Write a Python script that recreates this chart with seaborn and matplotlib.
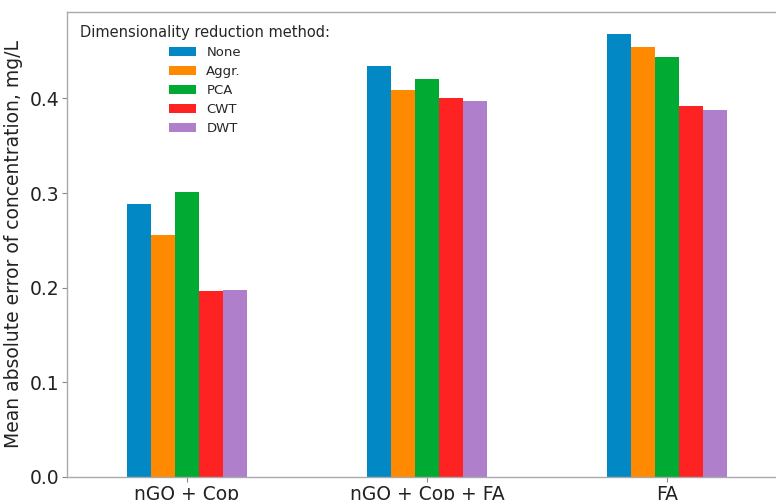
import matplotlib
matplotlib.use("Agg")
import matplotlib.pyplot as plt
import seaborn as sns
import pandas as pd

# data
mixtures = ["nGO + Cop", "nGO + Cop + FA", "FA"]
methods = ["None", "Aggr.", "PCA", "CWT", "DWT"]
mae_none = [0.288, 0.434, 0.468]
mae_aggr = [0.256, 0.409, 0.454]
mae_pca = [0.301, 0.421, 0.444]
mae_cwt = [0.197, 0.400, 0.392]
mae_dwt = [0.198, 0.397, 0.388]

colors = ["#0388c6", "#ff8a00", "#00aa33", "#ff2222", "#b07fcc"]

rows = []
for method, vals in zip(methods, [mae_none, mae_aggr, mae_pca, mae_cwt, mae_dwt]):
    for mix, v in zip(mixtures, vals):
        rows.append({"Mixture": mix, "Method": method, "MAE": v})
df = pd.DataFrame(rows)

sns.set_style("ticks")
plt.rcParams["font.family"] = ["DejaVu Sans"]

fig = plt.figure(figsize=(7.76, 5.0), dpi=100)
# axes run a little past the right edge, like the cropped original
ax = fig.add_axes([67 / 776, 23 / 500, (787 - 67) / 776, (477 - 12) / 500])

sns.barplot(
    data=df, x="Mixture", y="MAE", hue="Method",
    order=mixtures, hue_order=methods, palette=colors,
    width=0.5, gap=0, saturation=1, ax=ax, errorbar=None,
    linewidth=0,
)

ax.set_xlim(-0.5, 2.5)
ax.set_ylim(0, 0.4914)
ax.set_yticks([0.0, 0.1, 0.2, 0.3, 0.4])
ax.set_yticklabels(["0.0", "0.1", "0.2", "0.3", "0.4"])
ax.set_xlabel("")
ax.set_ylabel("Mean absolute error of concentration, mg/L", fontsize=13.5,
              color="#222222", labelpad=5)
ax.tick_params(axis="both", labelsize=13.5, colors="#222222", length=3.5,
               pad=2, color="#888888")

for s in ax.spines.values():
    s.set_color("#aaaaaa")
    s.set_linewidth(1.0)

leg = ax.legend(title="Dimensionality reduction method:", frameon=False,
                loc="upper left", fontsize=9.5, title_fontsize=10.5,
                borderaxespad=0.6, labelspacing=0.45)
for h in leg.legend_handles:
    h.set_linewidth(0)

fig.savefig("out.png", dpi=100)
